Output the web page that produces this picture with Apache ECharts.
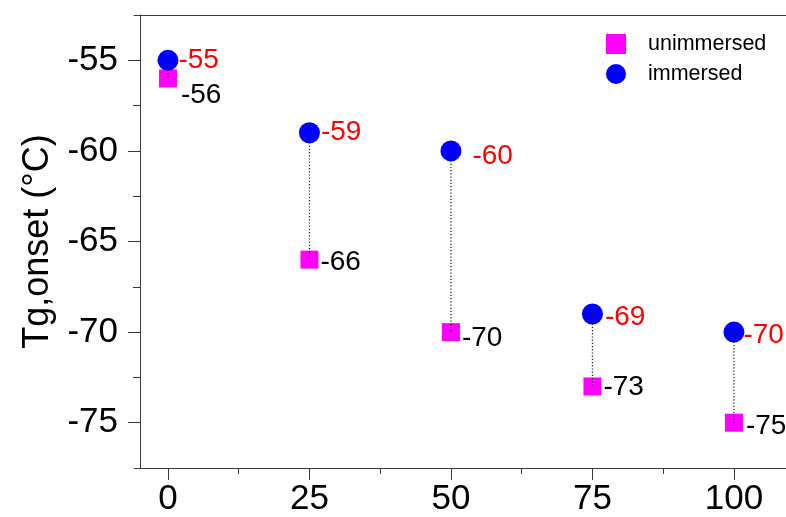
<!DOCTYPE html>
<html>
<head>
<meta charset="utf-8">
<script src="https://cdn.jsdelivr.net/npm/echarts@6/dist/echarts.min.js"></script>
<style>
  html, body { margin: 0; padding: 0; background: #fff; }
  #chart { width: 786px; height: 517px; }
</style>
</head>
<body>
<div id="chart"></div>
<script>
// Glass transition onset temperature vs. content, before and after immersion
const contents = [0, 25, 50, 75, 100];
const unimmersed = [-56, -66, -70, -73, -75];
const immersed = [-55, -59, -60, -69, -70];

const xMajorTicks = [0, 25, 50, 75, 100];
const xMinorTicks = [12.5, 37.5, 62.5, 87.5];
const yMajorTicks = [-75, -70, -65, -60, -55];
const yMinorTicks = [-72.5, -67.5, -62.5, -57.5];

// Label nudges in px [dx, dy] from the default right-side placement
const immersedNudge = [[0, 0], [1, 0], [11, 5], [2, 3], [-1, 3]];
const unimmersedNudge = [[4, 17], [2, 3], [2, 6], [2, 1], [3, 4]];

const FONT = '"Liberation Sans", Arial, Helvetica, sans-serif';
const AXIS_COLOR = '#3a3a3a';
const X_MIN = -6;
const X_MAX = 109.2; // frame is cut at the right edge of the canvas

function pointsWithLabels(values, nudges, color) {
  return values.map((v, i) => ({
    value: [contents[i], v],
    label: {
      offset: nudges[i],
      formatter: String(v),
      color: color
    }
  }));
}

const chart = echarts.init(document.getElementById('chart'), null, { renderer: 'canvas' });

const option = {
  animation: false,
  backgroundColor: '#ffffff',
  textStyle: { fontFamily: FONT },
  grid: { left: 134, right: 0, top: 15, bottom: 49, containLabel: false },
  legend: {
    orient: 'vertical',
    left: 606,
    top: 33,
    padding: 0,
    itemWidth: 20,
    itemHeight: 20,
    itemGap: 8,
    textStyle: { fontSize: 21.5, color: '#000', fontFamily: FONT, padding: [0, 0, 0, 17] },
    data: [
      { name: 'unimmersed', icon: 'rect' },
      { name: 'immersed', icon: 'circle' }
    ]
  },
  xAxis: [
    {
      type: 'value',
      position: 'bottom',
      min: X_MIN,
      max: X_MAX,
      splitLine: { show: false },
      axisLine: { show: true, onZero: false, lineStyle: { color: AXIS_COLOR, width: 1 } },
      axisTick: { show: true, inside: false, length: 12, customValues: xMajorTicks,
                  lineStyle: { color: AXIS_COLOR, width: 1 } },
      axisLabel: { show: true, customValues: xMajorTicks, fontSize: 35, color: '#000',
                   fontFamily: FONT, margin: 14 }
    },
    {
      type: 'value',
      position: 'bottom',
      min: X_MIN,
      max: X_MAX,
      splitLine: { show: false },
      axisLine: { show: false, onZero: false },
      axisTick: { show: true, inside: false, length: 6, customValues: xMinorTicks,
                  lineStyle: { color: AXIS_COLOR, width: 1 } },
      axisLabel: { show: false }
    },
    {
      type: 'value',
      position: 'top',
      min: X_MIN,
      max: X_MAX,
      splitLine: { show: false },
      axisLine: { show: true, onZero: false, lineStyle: { color: AXIS_COLOR, width: 1 } },
      axisTick: { show: false },
      axisLabel: { show: false }
    }
  ],
  yAxis: [
    {
      type: 'value',
      position: 'left',
      offset: -6,
      min: -77.5,
      max: -52.5,
      splitLine: { show: false },
      axisLine: { show: true, onZero: false, lineStyle: { color: AXIS_COLOR, width: 1 } },
      axisTick: { show: true, inside: false, length: 12, customValues: yMajorTicks,
                  lineStyle: { color: AXIS_COLOR, width: 1 } },
      axisLabel: { show: true, customValues: yMajorTicks, fontSize: 35, color: '#000',
                   fontFamily: FONT, margin: 22 },
      name: 'Tg,onset (°C)',
      nameLocation: 'middle',
      nameRotate: 90,
      nameGap: 82,
      nameTextStyle: { fontSize: 36, color: '#000', fontFamily: FONT }
    },
    {
      type: 'value',
      position: 'left',
      offset: -6,
      min: -77.5,
      max: -52.5,
      splitLine: { show: false },
      axisLine: { show: false, onZero: false },
      axisTick: { show: true, inside: false, length: 7, customValues: yMinorTicks,
                  lineStyle: { color: AXIS_COLOR, width: 1 } },
      axisLabel: { show: false }
    }
  ],
  series: [
    {
      name: 'unimmersed',
      type: 'scatter',
      symbol: 'rect',
      symbolSize: 18,
      itemStyle: { color: '#ff00ff', opacity: 1 },
      z: 2,
      label: { show: true, position: 'right', distance: 0, fontSize: 28, fontFamily: FONT },
      data: pointsWithLabels(unimmersed, unimmersedNudge, '#000000')
    },
    {
      name: 'immersed',
      type: 'scatter',
      symbol: 'circle',
      symbolSize: 21,
      itemStyle: { color: '#0000ff', opacity: 1 },
      z: 3,
      label: { show: true, position: 'right', distance: 0, fontSize: 28, fontFamily: FONT },
      data: pointsWithLabels(immersed, immersedNudge, '#ff0000')
    },
    {
      // dotted connectors between the paired measurements
      name: 'shift',
      type: 'custom',
      z: 5,
      silent: true,
      encode: { x: 0, y: [1, 2] },
      data: contents.map((c, i) => [c, immersed[i], unimmersed[i]]),
      renderItem: function (params, api) {
        const top = api.coord([api.value(0), api.value(1)]);
        const bottom = api.coord([api.value(0), api.value(2)]);
        return {
          type: 'line',
          shape: { x1: top[0], y1: top[1], x2: bottom[0], y2: bottom[1] },
          style: { stroke: '#1a1a1a', lineWidth: 1.2, lineDash: [1.2, 2] }
        };
      }
    }
  ]
};

chart.setOption(option);
</script>
</body>
</html>
